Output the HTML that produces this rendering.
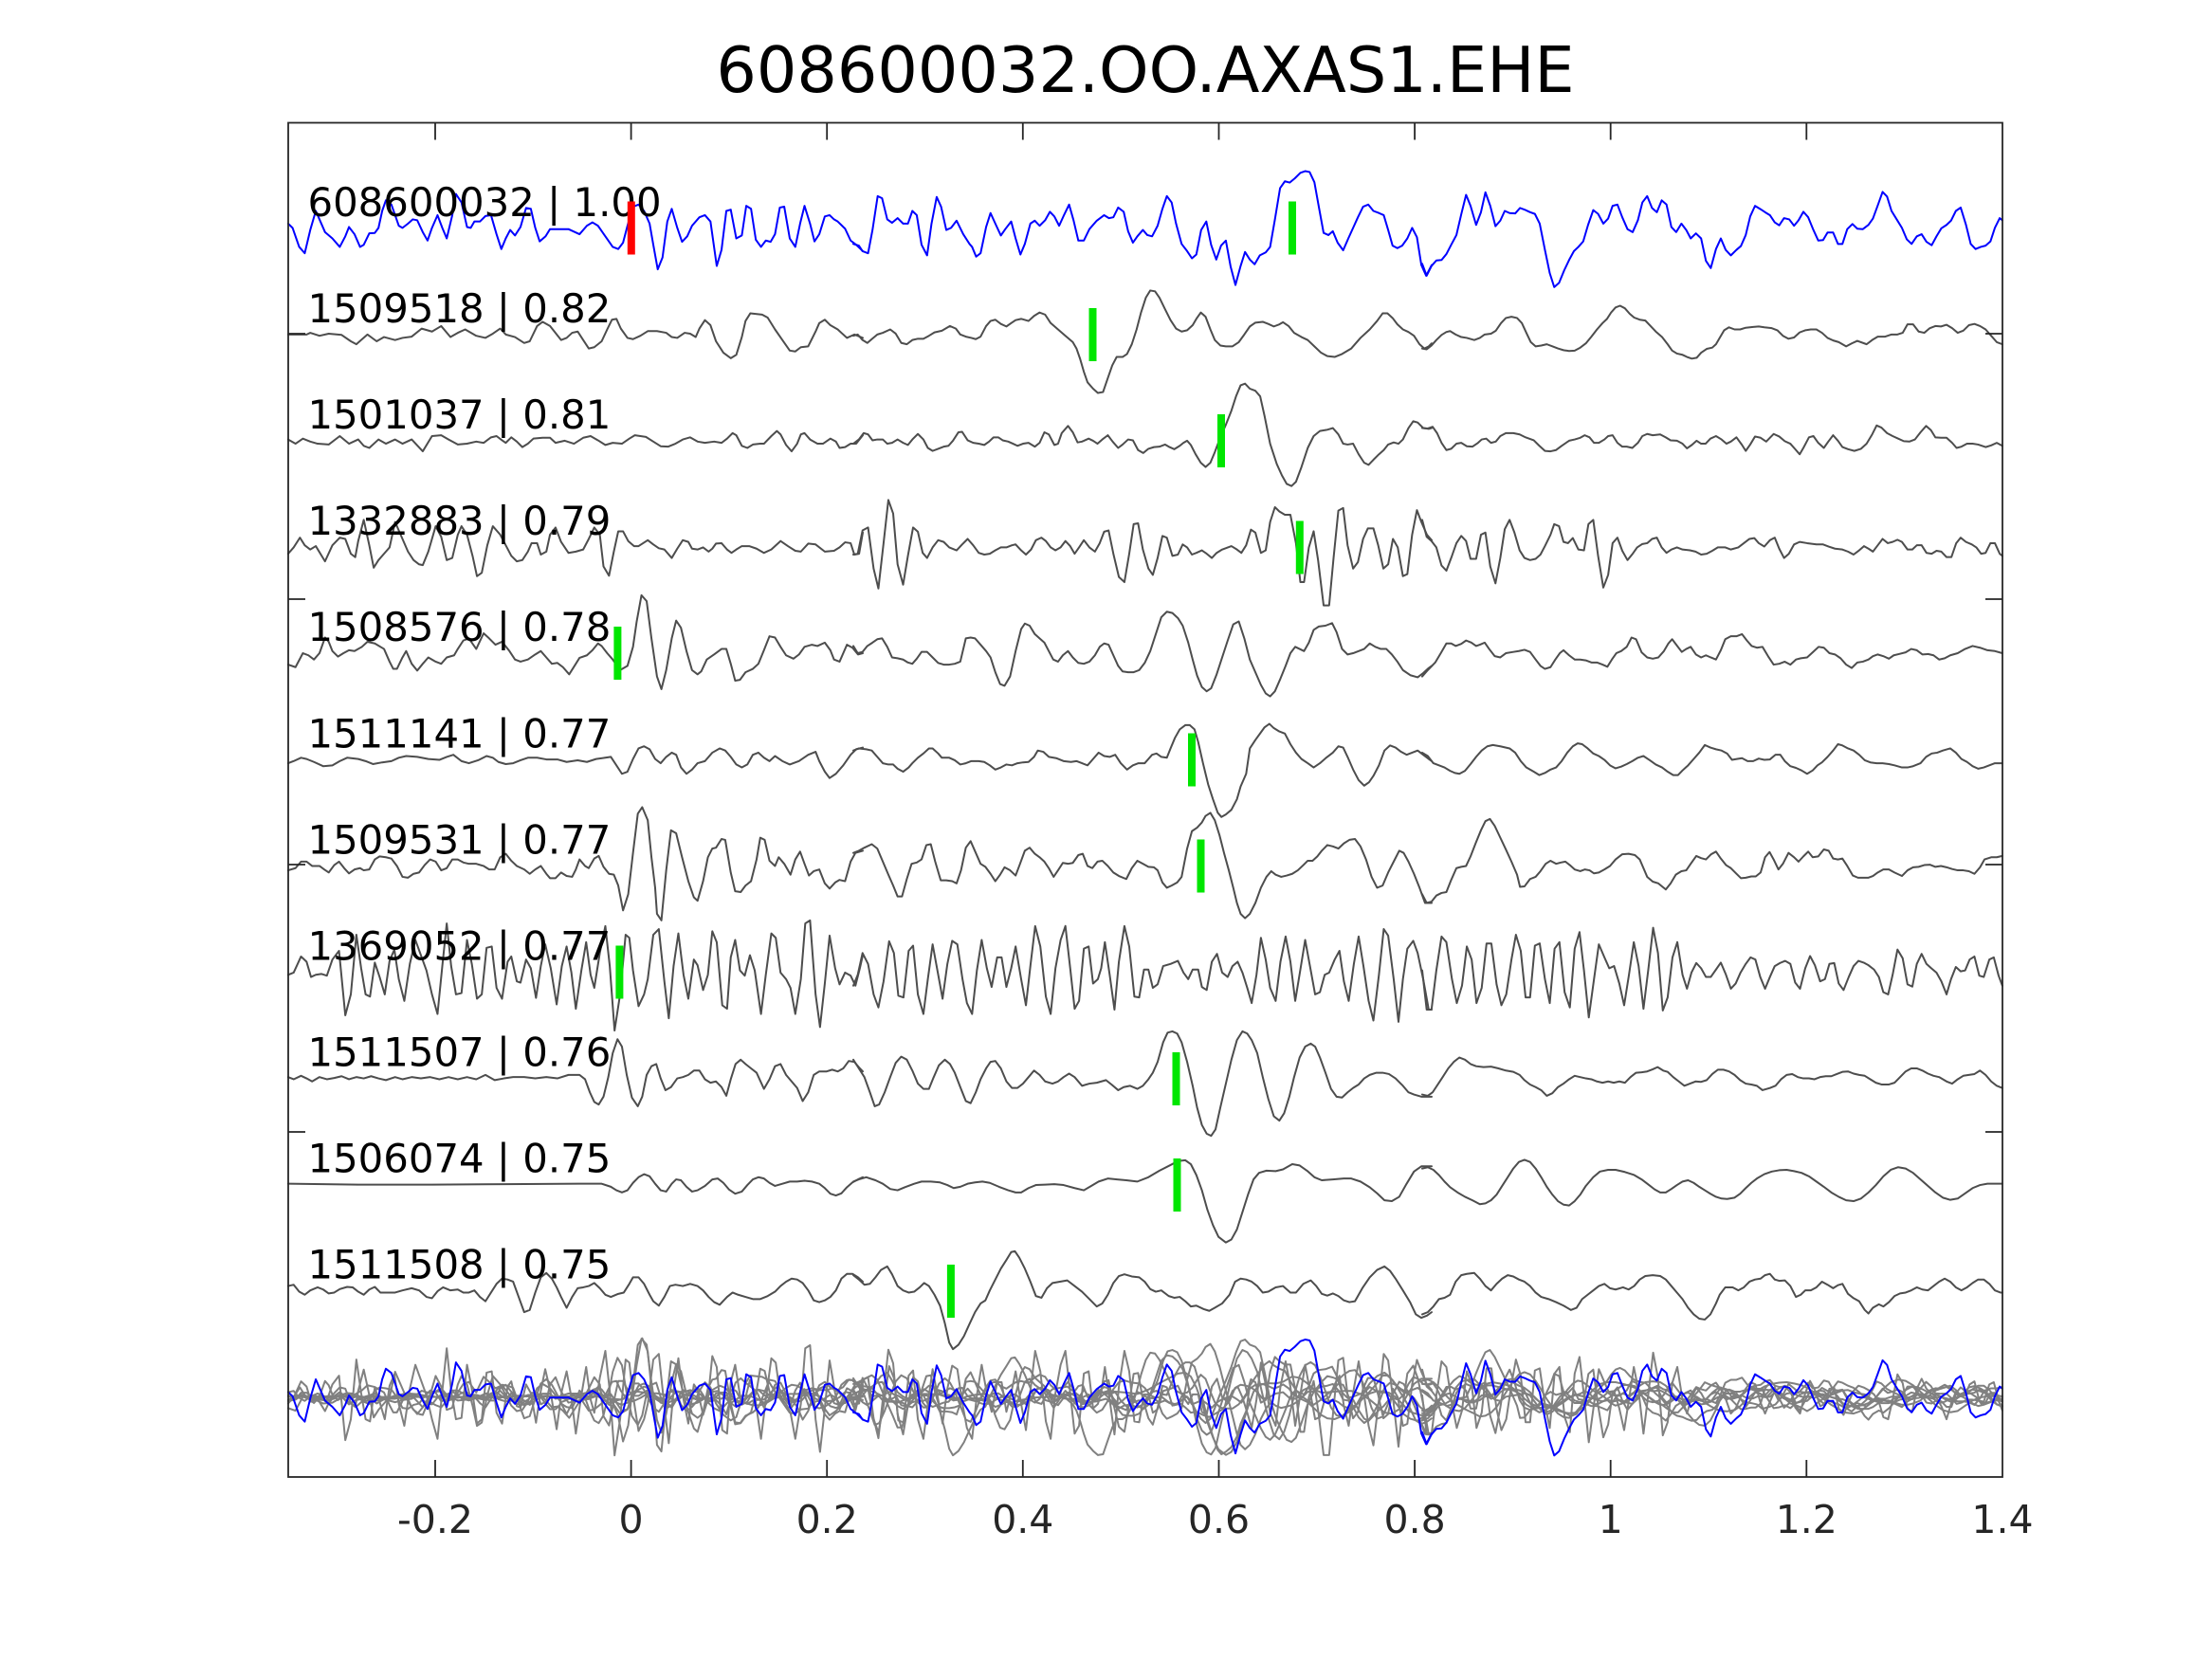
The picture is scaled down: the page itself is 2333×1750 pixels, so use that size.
<!DOCTYPE html>
<html>
<head>
<meta charset="utf-8">
<style>
html,body{margin:0;padding:0;background:#fff;}
svg{display:block;}
polyline{fill:none;vector-effect:non-scaling-stroke;stroke-linejoin:round;stroke-linecap:round;}
text{font-family:"DejaVu Sans","Liberation Sans",sans-serif;}
</style>
</head>
<body>
<svg width="2333" height="1750" viewBox="0 0 2333 1750" xmlns="http://www.w3.org/2000/svg" xmlns:xlink="http://www.w3.org/1999/xlink">
<defs>
<g id="t0">
<polyline transform="translate(300,160) scale(0.38903,0.44643)" points="10,170 22,180 40,225 55,240 70,185 85,140 95,160 110,190 130,205 150,225 165,200 175,178 190,195 205,225 215,220 230,193 245,192 255,180 265,140 275,115 290,125 300,150 310,175 320,180 335,170 348,160 360,162 375,190 388,210 400,180 415,150 428,180 440,205 455,150 465,100 480,120 495,178 505,180 515,165 530,165 545,152 560,150 575,195 588,230 600,205 612,185 625,198 640,178 655,133 668,135 680,180 692,212 708,200 720,183 740,183 770,183 800,195 820,175 835,167 850,175 870,200 890,225 905,230 918,215 930,175 945,130 960,125 975,140 990,170 1000,220 1012,278 1025,250 1038,165 1050,135 1065,180 1078,213 1092,200 1105,175 1125,155 1140,150 1155,165 1172,270 1185,232 1198,140 1210,137 1225,205 1240,198 1252,128 1265,135 1278,208 1292,225 1305,210 1318,213 1330,195 1343,132 1355,130 1370,205 1385,225 1398,170 1410,128 1425,170 1437,212 1450,195 1465,153 1478,150 1490,160 1500,165 1520,182 1535,210 1550,220 1568,235"/>
<polyline transform="translate(900,160) scale(0.38903,0.44643)" points="0,218 15,222 25,235 40,240 52,185 66,105 78,110 92,160 105,168 120,157 135,170 148,170 160,140 172,150 185,220 200,245 212,170 226,107 238,130 252,185 265,180 280,163 298,195 315,218 322,225 333,248 345,240 360,178 372,145 385,170 400,198 412,183 428,165 440,205 453,243 465,218 480,170 492,163 505,175 520,162 533,142 545,153 558,175 570,152 585,125 597,162 610,210 625,210 640,183 660,163 680,150 693,157 705,155 718,132 733,142 745,188 758,215 770,200 785,185 797,197 810,200 825,175 838,135 850,105 863,120 875,170 890,218 905,235 918,252 930,243 943,185 957,165 970,220 984,255 997,222 1010,210 1023,272 1036,315 1050,270 1062,237 1075,255 1088,266 1102,245 1118,238 1130,225 1143,160 1157,86 1170,70 1183,73 1197,63 1212,50 1225,46 1237,48 1250,72 1262,130 1275,192 1288,197 1300,188 1313,215 1328,233 1342,205 1355,180 1368,155 1382,130 1396,125 1410,140 1425,145 1438,150 1450,185 1462,222 1475,228 1488,222 1502,205 1515,180 1528,202 1540,268 1553,293 1568,268"/>
<polyline transform="translate(1500,160) scale(0.39222,0.44643)" points="0,265 12,293 25,270 38,257 52,256 65,242 78,220 92,197 105,148 118,102 130,128 145,173 158,143 170,96 183,128 197,176 210,163 222,140 235,145 250,146 263,133 278,138 290,143 303,147 316,170 330,232 343,287 355,320 368,310 382,280 395,256 408,235 420,225 433,212 446,173 460,138 473,147 487,170 500,158 512,128 525,125 538,155 552,183 566,190 580,162 592,120 605,105 618,133 631,143 644,115 657,125 670,178 683,190 697,170 710,185 722,205 736,193 750,205 763,258 776,275 790,230 803,205 816,232 830,245 845,232 857,223 870,197 882,153 895,128 910,136 922,143 935,150 948,167 960,174 973,157 987,160 1000,175 1012,162 1025,142 1038,155 1052,185 1065,210 1078,209 1090,191 1105,191 1118,218 1130,218 1143,183 1157,171 1170,182 1185,183 1200,173 1212,158 1225,127 1238,95 1250,106 1262,140 1276,160 1290,180 1303,207 1316,218 1330,200 1343,195 1356,213 1370,221 1383,200 1396,181 1410,173 1422,163 1435,140 1448,132 1462,172 1475,218 1488,230 1502,225 1515,222 1528,212 1540,180 1553,157 1560,162"/>
</g>
<g id="t1">
<polyline transform="translate(300,160) scale(0.38903,0.44643)" points="10,432 60,432 70,428 95,435 120,430 155,433 180,448 195,455 225,432 250,448 270,438 300,445 320,440 345,437 372,418 400,425 425,412 450,438 470,428 490,420 520,435 545,440 565,430 585,418 600,432 625,438 650,452 665,448 685,412 700,402 720,412 750,445 765,440 780,428 795,425 810,445 825,465 840,462 860,448 875,420 888,397 900,395 912,418 930,440 945,443 965,435 985,424 1010,424 1035,428 1050,438 1065,440 1085,428 1100,430 1115,438 1125,418 1140,398 1155,410 1170,448 1190,475 1210,488 1225,480 1240,438 1250,400 1263,382 1295,385 1310,392 1330,420 1350,445 1370,470 1385,472 1400,462 1420,460 1440,425 1450,405 1465,397 1480,410 1500,420 1525,440 1545,432 1568,440"/>
<polyline transform="translate(900,160) scale(0.38903,0.44643)" points="0,435 12,432 25,445 38,452 50,443 65,432 80,428 100,420 115,430 130,452 145,455 160,445 175,442 190,442 205,435 220,427 240,423 262,412 278,418 290,432 305,437 320,440 332,443 345,437 360,412 372,400 385,397 400,407 415,413 428,405 440,398 455,395 475,400 490,388 505,380 520,385 535,405 555,420 575,435 595,450 605,465 615,490 625,520 635,545 650,560 663,570 677,568 690,535 702,505 714,485 730,485 742,478 755,455 768,420 780,380 793,345 805,328 818,330 830,345 845,372 860,398 875,418 890,425 905,422 920,410 930,395 942,380 955,390 968,420 980,445 995,458 1010,460 1028,460 1045,450 1060,432 1075,413 1090,404 1110,402 1125,407 1140,413 1155,408 1165,403 1180,412 1195,428 1215,438 1232,445 1250,460 1268,475 1285,483 1305,485 1325,478 1350,465 1375,440 1400,420 1420,400 1435,382 1448,382 1462,393 1475,408 1490,420 1505,426 1520,435 1535,455 1548,465 1560,460 1568,453"/>
<polyline transform="translate(1500,160) scale(0.39222,0.44643)" points="0,465 12,467 25,458 38,445 52,433 65,426 75,424 90,432 105,438 120,440 140,445 155,440 168,432 185,430 198,423 212,405 225,393 240,390 255,393 268,405 280,428 292,450 305,460 320,458 335,455 350,460 365,465 380,469 395,471 410,470 425,463 440,453 455,437 470,420 485,405 497,395 508,380 520,368 532,364 545,370 558,383 570,392 585,397 600,399 612,410 628,425 645,438 660,455 672,470 685,477 700,480 712,485 725,489 738,487 750,475 765,466 780,463 790,455 800,440 812,422 825,415 840,420 855,420 870,416 890,414 905,413 920,415 940,417 955,422 970,435 985,442 1000,439 1015,427 1030,422 1045,420 1060,420 1075,428 1090,440 1105,446 1120,450 1140,460 1155,453 1170,447 1195,455 1210,445 1225,437 1245,437 1262,432 1278,432 1292,428 1305,408 1320,408 1335,425 1350,428 1365,417 1380,412 1395,413 1410,409 1425,417 1440,428 1455,423 1470,410 1485,407 1500,412 1515,420 1530,435 1545,450 1560,455"/>
</g>
<g id="t2">
<polyline transform="translate(300,160) scale(0.38903,0.44643)" points="10,680 30,690 50,678 70,685 90,690 120,692 150,672 175,690 200,680 215,695 230,700 255,680 275,690 300,680 320,690 345,680 375,708 400,672 425,670 445,680 470,692 495,690 520,685 540,688 560,675 575,672 590,682 600,688 615,675 630,685 645,698 660,690 675,678 700,676 720,676 735,688 760,683 785,690 810,676 830,672 850,682 870,693 890,688 915,690 935,678 950,670 980,674 1000,685 1020,696 1040,697 1060,690 1080,680 1100,675 1120,685 1140,688 1165,685 1185,688 1200,678 1215,665 1225,670 1240,695 1255,700 1270,692 1290,690 1300,690 1320,672 1335,660 1345,668 1360,693 1375,708 1390,690 1400,668 1410,665 1425,680 1445,690 1460,690 1480,678 1495,685 1505,700 1520,698 1535,690 1550,690 1568,670"/>
<polyline transform="translate(900,160) scale(0.38903,0.44643)" points="0,690 15,680 28,665 40,668 52,682 65,680 80,680 92,690 105,688 120,680 135,688 148,693 160,680 175,667 190,680 202,700 215,707 230,702 245,697 258,695 270,683 285,663 295,662 310,682 325,688 340,690 355,693 368,685 380,675 393,675 405,682 420,685 433,690 445,695 460,690 475,688 492,697 505,688 518,663 530,668 545,693 555,690 565,665 582,648 595,663 608,687 620,685 638,678 650,683 662,690 675,680 690,670 703,685 718,700 730,692 745,680 758,682 772,705 786,712 800,702 815,698 830,697 845,692 855,697 870,703 885,695 895,688 905,683 915,693 928,715 942,735 955,745 968,735 980,710 995,675 1010,645 1025,612 1038,577 1050,552 1062,548 1075,560 1090,565 1103,578 1115,625 1130,690 1148,738 1162,765 1175,785 1188,790 1200,780 1215,745 1232,700 1248,672 1265,660 1285,657 1300,653 1315,668 1328,690 1340,692 1355,690 1370,715 1385,735 1397,740 1410,728 1425,715 1438,705 1450,692 1465,687 1478,690 1490,680 1505,653 1518,637 1530,640 1545,653 1560,655 1568,653"/>
<polyline transform="translate(1500,160) scale(0.39222,0.44643)" points="0,653 15,654 28,650 40,665 52,688 65,705 78,702 92,690 105,688 120,696 135,697 150,688 160,680 172,678 185,688 198,685 210,672 225,665 245,665 262,668 278,675 300,682 315,695 330,707 345,708 360,705 375,695 395,683 410,680 425,676 437,670 450,675 462,688 475,688 490,680 500,672 512,670 525,688 538,697 550,697 565,700 580,688 592,672 605,667 620,670 640,668 655,675 668,682 685,683 700,690 712,701 725,693 738,683 750,690 762,690 775,678 790,672 805,680 818,690 830,685 845,675 860,693 870,707 882,692 895,673 910,676 925,685 945,667 960,673 975,684 990,690 1002,702 1015,715 1025,700 1040,675 1052,672 1065,688 1080,700 1092,685 1105,670 1118,683 1130,698 1145,703 1162,707 1180,702 1195,690 1210,668 1222,647 1235,652 1250,665 1265,672 1280,678 1295,684 1310,685 1325,680 1340,663 1355,648 1368,658 1380,675 1395,676 1410,676 1425,688 1437,700 1450,697 1465,690 1480,690 1495,692 1515,698 1530,694 1545,688 1560,695"/>
</g>
<g id="t3">
<polyline transform="translate(300,160) scale(0.38903,0.44643)" points="10,950 25,935 42,912 55,930 70,940 85,932 110,968 130,930 150,912 165,915 180,950 192,958 200,920 215,870 230,930 242,983 255,965 275,945 285,935 300,875 315,905 335,945 350,965 365,975 375,977 390,945 410,885 425,910 440,965 455,960 470,905 480,885 495,905 510,955 522,1003 535,995 550,930 565,885 585,905 600,930 615,955 630,968 645,965 660,945 670,925 685,925 695,952 710,945 720,905 735,888 750,922 770,948 790,945 810,940 825,915 840,888 855,905 865,980 880,1002 893,945 905,897 918,897 932,920 948,932 960,932 985,918 1000,928 1015,937 1030,940 1050,960 1065,938 1080,918 1095,922 1105,938 1120,940 1135,935 1150,945 1160,938 1170,926 1185,925 1200,940 1212,948 1225,940 1240,932 1260,932 1280,938 1300,948 1320,940 1345,920 1365,932 1385,943 1400,945 1420,926 1440,928 1465,945 1490,943 1505,935 1520,923 1535,925 1545,952 1558,950 1568,900"/>
<polyline transform="translate(900,160) scale(0.38903,0.44643)" points="0,952 12,950 25,895 40,888 55,985 68,1032 82,925 95,823 108,855 120,975 135,1023 148,955 162,888 175,898 188,948 200,960 215,935 230,918 245,922 260,935 280,942 295,928 310,915 325,930 340,948 355,952 370,950 385,942 400,935 415,935 430,930 440,928 455,942 468,952 482,940 495,918 510,912 522,920 535,935 548,942 562,935 575,920 588,932 600,950 612,935 625,918 640,935 655,945 668,925 680,898 692,895 705,950 720,1005 735,1017 748,950 760,880 772,878 785,940 800,985 812,1000 825,960 838,908 850,912 865,955 880,952 893,928 905,935 918,952 930,948 945,942 958,950 972,960 985,948 1000,940 1025,932 1040,940 1052,948 1065,930 1078,893 1090,900 1105,948 1118,942 1130,875 1143,840 1155,850 1170,858 1185,858 1200,925 1212,1017 1222,1017 1235,935 1248,897 1260,965 1275,1072 1290,1072 1302,960 1315,848 1328,842 1340,930 1355,985 1368,970 1382,915 1395,890 1410,890 1423,930 1437,985 1450,975 1463,915 1476,935 1490,1003 1502,998 1515,905 1528,847 1540,875 1555,905 1568,918"/>
<polyline transform="translate(1500,160) scale(0.39222,0.44643)" points="0,870 12,910 25,920 38,935 52,978 65,990 80,955 92,925 105,908 118,920 130,962 145,962 158,905 170,900 183,980 197,1020 210,960 222,892 235,870 248,900 262,942 275,960 290,965 305,962 318,952 330,932 345,905 355,880 368,885 380,922 392,925 405,913 420,940 435,942 447,880 460,870 473,955 487,1030 500,1000 512,925 525,912 538,943 552,965 566,950 578,935 592,927 605,925 618,915 631,912 644,935 657,948 670,940 685,935 700,940 720,942 735,945 750,952 765,950 780,943 795,935 815,935 830,940 850,935 865,925 880,915 893,913 905,925 920,933 935,918 948,912 960,938 973,960 986,950 1000,928 1015,922 1035,925 1060,928 1078,928 1093,933 1110,938 1130,940 1145,945 1160,952 1175,942 1188,932 1200,938 1212,945 1225,930 1238,915 1252,925 1265,922 1278,917 1290,922 1305,940 1318,940 1330,930 1343,930 1356,948 1370,950 1383,943 1396,945 1410,958 1423,958 1436,925 1448,912 1462,922 1478,928 1490,935 1503,950 1515,948 1528,925 1540,925 1553,950 1560,955"/>
</g>
<g id="t4">
<polyline transform="translate(300,160) scale(0.38903,0.44643)" points="10,1212 30,1218 50,1185 65,1190 80,1200 95,1185 110,1148 120,1158 130,1180 145,1193 160,1185 175,1178 190,1180 210,1170 225,1158 245,1162 270,1175 285,1205 295,1222 305,1222 320,1195 330,1180 345,1210 360,1226 375,1210 390,1195 410,1205 425,1210 440,1195 460,1190 470,1175 485,1155 500,1150 520,1175 540,1138 555,1150 572,1165 590,1158 610,1180 625,1200 640,1205 660,1200 680,1188 695,1180 710,1195 725,1210 740,1208 755,1218 772,1235 790,1210 800,1196 820,1190 835,1178 850,1162 860,1168 875,1185 890,1200 910,1225 930,1215 945,1170 955,1110 968,1048 982,1062 995,1150 1010,1240 1022,1270 1035,1225 1050,1150 1062,1108 1075,1125 1090,1180 1105,1225 1120,1235 1130,1228 1145,1200 1165,1188 1185,1175 1198,1175 1210,1210 1222,1250 1235,1248 1250,1230 1270,1222 1285,1210 1300,1178 1315,1145 1330,1148 1345,1170 1360,1190 1380,1198 1395,1188 1410,1170 1430,1165 1445,1168 1465,1160 1480,1178 1490,1200 1505,1205 1525,1165 1540,1172 1555,1188 1568,1185"/>
<polyline transform="translate(900,160) scale(0.38903,0.44643)" points="0,1168 12,1185 25,1182 38,1168 52,1160 65,1152 78,1150 92,1170 105,1195 120,1197 135,1200 148,1207 160,1210 172,1198 185,1182 200,1182 215,1195 230,1208 245,1212 260,1212 275,1210 290,1205 305,1150 318,1148 330,1150 345,1165 360,1180 372,1195 385,1230 398,1258 410,1262 425,1240 440,1180 455,1128 465,1115 478,1120 492,1140 505,1150 518,1160 530,1180 542,1200 555,1205 568,1190 582,1180 595,1195 610,1208 625,1210 640,1205 655,1190 668,1170 680,1162 692,1165 705,1190 718,1215 730,1228 745,1230 760,1230 775,1225 790,1208 805,1180 820,1140 835,1100 850,1087 865,1090 880,1102 893,1120 908,1160 920,1200 932,1238 945,1265 958,1275 970,1268 985,1235 1000,1195 1015,1155 1030,1117 1045,1110 1060,1150 1075,1200 1090,1230 1105,1260 1118,1280 1130,1287 1143,1275 1158,1245 1172,1215 1185,1185 1198,1170 1210,1175 1222,1180 1235,1160 1248,1130 1262,1122 1280,1120 1298,1114 1310,1135 1325,1175 1340,1188 1355,1185 1370,1180 1385,1175 1400,1162 1415,1170 1430,1175 1445,1175 1460,1188 1475,1205 1490,1225 1510,1237 1530,1242 1545,1232 1560,1220 1568,1215"/>
<polyline transform="translate(1500,160) scale(0.39222,0.44643)" points="0,1240 15,1225 35,1207 50,1185 65,1162 78,1162 90,1168 105,1163 118,1155 132,1160 145,1168 155,1165 168,1160 180,1175 195,1192 210,1195 225,1185 245,1182 260,1180 275,1177 290,1182 305,1200 318,1215 330,1222 345,1218 358,1200 370,1185 380,1178 395,1190 410,1200 425,1200 440,1202 455,1207 470,1207 485,1212 498,1217 510,1200 522,1185 535,1180 550,1170 563,1148 575,1152 590,1183 605,1195 620,1198 635,1195 650,1180 662,1162 672,1152 685,1167 698,1182 710,1175 722,1170 736,1188 750,1195 763,1190 776,1195 790,1200 803,1178 815,1152 830,1145 845,1145 860,1140 873,1155 886,1168 900,1172 915,1170 930,1192 945,1212 960,1210 975,1205 990,1212 1005,1200 1018,1197 1035,1195 1050,1183 1066,1170 1080,1172 1095,1185 1110,1188 1125,1197 1140,1212 1155,1220 1170,1207 1185,1205 1200,1200 1212,1192 1225,1188 1240,1192 1255,1198 1268,1190 1282,1187 1300,1183 1315,1175 1330,1178 1345,1188 1360,1187 1375,1190 1390,1200 1405,1197 1420,1190 1440,1185 1460,1175 1480,1168 1500,1172 1520,1178 1540,1180 1560,1185"/>
</g>
<g id="t5">
<polyline transform="translate(300,160) scale(0.38903,0.44643)" points="10,1445 25,1440 45,1432 60,1435 80,1442 105,1452 130,1450 150,1440 170,1432 200,1435 220,1440 240,1447 265,1443 290,1440 310,1432 330,1428 360,1430 390,1435 420,1437 440,1430 458,1425 480,1440 500,1445 525,1438 548,1428 565,1432 580,1442 600,1447 620,1445 640,1438 660,1432 685,1432 710,1436 740,1436 765,1442 795,1438 820,1442 845,1435 870,1432 885,1430 900,1450 915,1470 930,1465 945,1435 960,1410 975,1405 990,1412 1005,1435 1020,1445 1035,1430 1050,1420 1062,1425 1075,1455 1090,1470 1105,1460 1120,1445 1140,1440 1160,1420 1180,1410 1195,1415 1210,1430 1225,1448 1240,1455 1255,1448 1270,1425 1285,1420 1300,1432 1315,1440 1330,1428 1350,1440 1370,1448 1395,1440 1420,1425 1440,1418 1450,1440 1465,1465 1478,1480 1495,1470 1515,1450 1535,1425 1550,1412 1568,1408"/>
<polyline transform="translate(900,160) scale(0.38903,0.44643)" points="0,1415 15,1410 35,1412 50,1415 65,1430 80,1445 95,1448 108,1448 120,1458 135,1465 150,1455 160,1445 175,1432 190,1422 205,1410 215,1410 230,1422 240,1432 260,1432 275,1438 290,1448 305,1445 320,1440 340,1440 355,1442 370,1450 385,1460 400,1455 415,1448 430,1450 445,1445 460,1443 475,1442 490,1430 500,1415 515,1418 530,1430 550,1433 570,1440 590,1442 605,1440 620,1445 635,1450 650,1435 665,1420 680,1428 695,1430 710,1425 725,1445 742,1460 758,1450 773,1445 790,1445 800,1435 810,1425 822,1422 835,1430 850,1432 860,1410 872,1385 885,1365 900,1355 912,1355 925,1365 935,1395 948,1445 962,1495 975,1530 988,1562 998,1572 1010,1566 1025,1555 1040,1530 1050,1500 1065,1470 1075,1410 1090,1390 1105,1372 1115,1360 1128,1352 1140,1362 1155,1370 1170,1375 1185,1400 1200,1420 1215,1435 1232,1445 1248,1455 1265,1445 1282,1432 1300,1420 1315,1405 1328,1408 1340,1430 1355,1460 1370,1485 1385,1498 1398,1490 1410,1475 1425,1450 1440,1415 1455,1403 1470,1408 1485,1418 1500,1425 1515,1420 1530,1415 1545,1425 1560,1435 1568,1440"/>
<polyline transform="translate(1500,160) scale(0.39222,0.44643)" points="0,1420 15,1428 30,1445 45,1450 60,1455 75,1463 88,1468 100,1470 115,1463 130,1447 145,1430 160,1415 175,1405 190,1402 210,1405 235,1410 250,1420 265,1440 280,1455 300,1465 315,1473 330,1468 345,1460 360,1455 375,1440 390,1420 405,1405 418,1398 430,1400 445,1410 460,1422 475,1428 490,1437 505,1450 520,1457 535,1453 550,1447 565,1440 580,1432 595,1428 612,1438 628,1448 645,1455 660,1465 675,1473 688,1473 700,1462 715,1450 730,1435 745,1420 760,1402 775,1408 790,1412 805,1415 820,1422 833,1437 846,1435 860,1433 875,1440 890,1440 905,1434 920,1437 935,1436 950,1425 963,1425 975,1440 990,1452 1005,1456 1020,1462 1035,1470 1050,1462 1063,1450 1075,1443 1090,1430 1105,1415 1118,1400 1130,1403 1145,1410 1160,1415 1175,1425 1190,1438 1205,1443 1222,1445 1238,1445 1255,1447 1270,1450 1290,1455 1305,1455 1320,1452 1340,1445 1355,1430 1370,1422 1385,1420 1400,1415 1420,1410 1435,1420 1450,1435 1465,1442 1480,1452 1495,1458 1510,1455 1525,1450 1540,1445 1560,1445"/>
</g>
<g id="t6">
<polyline transform="translate(300,840) scale(0.38903,0.45918)" points="10,170 30,165 45,150 60,150 75,160 95,160 108,168 120,175 135,158 148,150 162,165 175,177 190,168 205,165 215,170 230,168 245,145 258,138 275,140 290,143 305,160 320,185 335,187 350,178 365,175 380,158 395,145 410,150 425,170 440,165 455,145 470,145 485,152 500,155 520,155 540,160 555,168 570,168 585,140 600,132 615,148 630,160 650,168 665,178 680,168 695,160 710,178 720,188 735,188 750,175 765,183 780,185 790,168 800,145 815,160 825,165 840,143 852,137 865,162 880,178 893,180 905,205 918,262 932,225 945,130 958,40 970,25 985,55 995,140 1005,210 1010,270 1022,285 1035,170 1048,78 1062,85 1078,140 1095,195 1110,232 1120,240 1135,195 1148,140 1160,120 1170,118 1185,98 1195,100 1210,175 1222,218 1237,220 1250,205 1265,195 1280,145 1290,95 1302,100 1315,148 1330,160 1340,140 1355,155 1372,180 1385,145 1398,127 1410,155 1422,182 1435,172 1450,168 1465,200 1478,212 1493,198 1505,192 1520,195 1535,150 1548,130 1568,125"/>
<polyline transform="translate(900,840) scale(0.38903,0.45918)" points="0,130 15,125 30,118 50,110 65,120 80,150 95,180 108,205 120,230 132,230 145,190 158,155 172,152 185,145 198,112 210,110 222,150 237,193 252,193 268,195 280,200 292,170 305,118 318,103 332,130 345,155 358,162 372,178 385,195 398,180 410,163 425,170 440,182 452,155 465,125 478,118 492,132 505,140 518,150 530,165 543,185 555,170 568,153 582,155 595,153 610,135 622,132 635,160 648,165 662,150 675,148 690,160 705,175 720,183 740,190 755,165 770,148 785,155 800,162 815,163 825,170 838,198 850,210 863,205 878,198 890,185 905,120 918,80 932,72 945,60 955,45 968,38 980,55 993,90 1005,130 1018,170 1030,210 1040,245 1050,270 1062,280 1075,270 1090,245 1105,210 1120,185 1133,172 1145,180 1160,185 1175,182 1190,178 1205,170 1220,158 1232,148 1245,148 1258,138 1270,125 1285,112 1300,115 1315,120 1330,108 1345,100 1360,98 1375,115 1390,145 1405,185 1420,210 1435,205 1450,175 1465,150 1480,125 1492,130 1505,150 1520,178 1535,210 1550,245 1568,245"/>
<polyline transform="translate(1500,840) scale(0.39222,0.45918)" points="0,225 12,245 25,242 38,228 52,222 65,220 78,192 92,165 105,162 118,160 130,138 145,105 158,78 170,57 182,52 195,68 210,95 225,122 240,150 255,180 263,208 275,207 290,190 305,185 318,172 332,155 345,148 360,155 373,152 385,150 397,158 410,168 425,172 437,168 450,170 462,177 475,175 490,168 505,160 520,145 538,133 555,132 572,135 585,145 595,165 605,185 620,196 635,200 655,214 668,200 682,180 697,172 710,170 722,155 737,137 750,142 763,145 777,133 790,127 803,143 817,158 830,165 845,178 857,188 870,187 885,184 897,184 910,175 922,140 934,128 945,145 958,168 970,155 985,130 1000,140 1012,150 1025,138 1038,127 1050,140 1065,138 1080,122 1093,125 1105,143 1118,145 1130,143 1143,160 1158,182 1172,187 1185,187 1200,187 1212,183 1225,175 1240,168 1255,168 1270,175 1290,183 1305,170 1320,163 1335,162 1350,158 1365,157 1380,162 1395,160 1410,163 1425,167 1440,170 1455,170 1470,172 1485,178 1500,163 1512,145 1530,140 1545,140 1560,137"/>
</g>
<g id="t7">
<polyline transform="translate(300,840) scale(0.38903,0.45918)" points="10,410 25,405 45,368 60,380 72,415 85,410 100,408 115,412 130,375 148,355 165,503 180,455 195,318 208,395 220,455 232,460 245,382 258,415 272,455 285,378 298,352 310,420 325,470 340,385 355,330 370,365 385,400 400,455 415,500 428,390 440,292 452,390 465,455 480,452 495,330 508,385 522,465 535,455 548,348 562,345 575,440 590,465 605,380 615,368 630,425 640,428 655,375 668,395 682,463 695,390 707,340 722,395 738,478 752,390 765,345 778,405 790,488 805,400 818,335 830,410 840,440 855,360 870,298 882,390 895,538 910,455 925,318 935,325 945,400 960,482 975,455 985,420 1000,318 1015,305 1030,425 1042,510 1055,390 1068,315 1082,410 1095,465 1110,375 1120,388 1135,445 1148,410 1160,310 1172,335 1187,480 1200,488 1210,370 1222,330 1235,400 1248,412 1262,365 1275,400 1292,500 1305,410 1320,315 1332,325 1345,405 1360,420 1372,440 1385,500 1400,420 1412,292 1425,285 1440,455 1452,530 1465,430 1478,320 1493,395 1505,432 1520,405 1535,412 1548,435 1560,395 1568,365"/>
<polyline transform="translate(900,840) scale(0.38903,0.45918)" points="0,435 12,410 25,360 40,385 55,455 68,485 82,425 97,333 110,360 122,458 136,462 150,355 162,343 175,455 190,500 202,420 215,340 228,400 242,465 255,385 268,332 282,340 296,420 308,475 322,500 335,400 348,330 362,395 375,438 390,370 402,370 415,438 428,395 440,345 455,420 468,480 480,390 493,298 507,345 522,460 535,500 548,395 562,330 575,298 588,395 600,488 612,470 625,350 638,345 650,430 663,420 672,395 682,335 695,410 708,490 720,380 735,298 748,345 762,460 775,462 788,398 800,398 812,440 825,432 840,390 860,385 880,378 895,405 908,420 920,398 935,398 945,438 958,445 972,380 986,362 1000,405 1015,415 1028,390 1042,380 1055,405 1068,440 1080,475 1093,410 1105,325 1118,375 1130,440 1145,470 1158,380 1172,322 1185,380 1198,470 1212,398 1225,330 1238,390 1252,455 1265,450 1278,410 1290,405 1305,375 1318,355 1330,425 1343,470 1357,385 1370,322 1383,390 1397,470 1410,515 1425,410 1438,305 1450,320 1465,420 1478,518 1490,420 1502,350 1518,332 1530,360 1545,420 1560,490 1568,490"/>
<polyline transform="translate(1500,840) scale(0.39222,0.45918)" points="0,400 12,490 25,490 38,400 52,322 65,335 80,420 93,475 107,435 120,345 133,375 146,475 160,440 173,338 186,338 200,432 213,480 226,455 240,375 252,318 265,355 278,462 290,462 303,343 316,338 330,420 343,475 356,350 369,335 383,450 397,485 410,350 423,312 435,400 448,508 462,420 475,340 490,370 503,395 516,390 530,430 543,480 556,410 569,335 582,390 595,488 608,398 621,302 634,360 647,492 660,462 673,370 686,335 700,410 712,442 724,405 737,383 750,395 763,415 776,415 790,398 803,382 816,408 830,442 843,430 856,405 870,385 883,370 896,375 909,415 922,442 935,415 948,390 962,383 976,378 990,385 1003,428 1016,442 1030,395 1043,367 1056,388 1070,425 1083,420 1095,385 1108,383 1120,430 1133,445 1147,415 1160,390 1173,378 1187,382 1200,388 1215,398 1228,415 1240,450 1253,455 1265,410 1278,352 1292,372 1305,432 1318,437 1330,385 1343,362 1356,385 1369,395 1383,405 1396,425 1410,455 1422,420 1435,392 1448,402 1460,400 1472,375 1485,368 1498,412 1510,415 1525,375 1537,370 1550,412 1560,435"/>
</g>
<g id="t8">
<polyline transform="translate(300,840) scale(0.38903,0.45918)" points="10,645 25,650 45,642 60,648 75,655 95,645 115,650 135,647 155,643 175,650 195,645 215,648 235,643 255,648 275,652 300,645 320,650 345,645 370,648 395,645 420,650 445,645 470,650 495,645 520,650 545,640 570,652 595,648 620,645 650,645 680,648 710,645 740,648 770,640 800,640 815,650 828,680 840,702 852,708 865,690 878,645 890,590 903,558 915,575 928,640 942,692 958,712 970,690 982,640 995,620 1008,615 1020,648 1033,675 1048,668 1065,648 1080,645 1095,640 1110,630 1125,630 1140,650 1155,658 1170,655 1185,668 1198,688 1210,650 1223,615 1237,605 1250,615 1265,625 1280,635 1300,672 1315,650 1330,620 1345,615 1360,640 1375,655 1390,670 1405,700 1420,680 1435,640 1450,632 1470,632 1485,628 1500,632 1515,625 1530,608 1545,610 1560,625 1568,632"/>
<polyline transform="translate(900,840) scale(0.38903,0.45918)" points="0,605 15,625 30,645 45,680 58,712 70,708 85,680 100,645 115,612 130,598 145,605 160,630 175,660 190,672 205,672 218,645 232,618 248,605 262,615 275,635 290,668 305,700 318,705 332,680 345,650 360,625 372,610 385,608 400,625 415,655 430,670 445,670 460,660 475,645 490,630 505,640 520,655 540,660 555,655 570,645 585,637 600,645 620,665 640,660 660,658 685,652 700,662 718,675 733,668 750,665 770,672 785,665 800,650 812,635 825,610 840,565 852,543 865,540 878,545 890,565 905,610 920,665 932,715 945,755 958,775 970,780 982,765 995,715 1010,660 1025,605 1040,560 1055,540 1068,545 1080,560 1095,590 1110,645 1125,695 1140,735 1155,745 1168,728 1182,690 1195,645 1210,600 1225,575 1240,568 1252,575 1265,600 1280,635 1295,672 1310,690 1325,692 1340,680 1355,670 1370,662 1385,648 1400,640 1418,635 1435,635 1452,638 1470,648 1490,665 1505,680 1520,685 1540,690 1568,690"/>
<polyline transform="translate(1500,840) scale(0.39222,0.45918)" points="0,685 15,688 28,680 42,662 55,645 70,625 85,610 100,600 115,605 130,615 145,620 165,622 185,621 205,625 225,630 245,633 262,640 275,652 290,662 305,668 320,675 335,688 350,682 365,668 380,660 395,650 410,642 425,645 440,648 455,650 470,655 485,658 500,655 515,658 530,655 545,658 560,645 575,635 590,634 605,632 620,627 633,622 648,630 660,633 675,645 690,655 705,665 720,660 735,655 750,656 765,652 780,638 795,628 810,628 825,632 840,640 855,652 870,660 885,662 900,665 915,675 935,670 950,665 965,650 980,640 995,638 1010,645 1025,648 1040,648 1055,650 1070,645 1085,643 1100,643 1115,638 1130,633 1145,632 1160,637 1175,640 1190,642 1205,650 1220,658 1235,662 1255,662 1270,658 1285,645 1300,632 1315,625 1330,625 1345,630 1360,637 1375,642 1390,645 1410,655 1425,660 1440,650 1455,642 1470,640 1485,638 1500,630 1515,640 1530,655 1545,665 1560,670"/>
</g>
<g id="t9">
<polyline transform="translate(300,840) scale(0.38903,0.45918)" points="10,890 200,892 400,892 600,891 800,890 860,890 885,897 900,905 915,910 930,905 945,888 960,875 975,868 990,873 1005,890 1020,905 1035,908 1050,890 1062,880 1075,882 1090,897 1105,908 1120,905 1140,895 1160,880 1175,878 1190,888 1205,903 1222,913 1240,908 1255,893 1270,880 1285,875 1300,878 1315,888 1330,895 1350,890 1370,885 1390,885 1410,883 1430,885 1450,890 1465,900 1480,913 1495,917 1510,912 1525,898 1540,887 1555,880 1568,875"/>
<polyline transform="translate(900,840) scale(0.38903,0.45918)" points="0,885 15,880 35,875 60,882 80,890 100,902 120,905 140,898 165,890 185,885 210,885 235,887 255,893 272,900 290,897 310,890 330,887 350,885 370,888 395,897 420,905 440,910 455,910 475,900 495,893 520,892 545,891 570,893 600,900 625,905 645,895 665,885 690,878 715,880 740,882 770,885 800,875 830,860 860,847 880,838 900,836 915,845 930,870 945,905 960,950 975,985 990,1012 1010,1025 1025,1018 1040,995 1055,955 1070,915 1085,880 1100,865 1120,860 1145,861 1165,857 1190,845 1210,848 1230,860 1250,875 1270,882 1300,880 1330,878 1350,878 1375,885 1400,898 1420,912 1440,928 1460,930 1480,920 1500,890 1520,862 1540,850 1568,850"/>
<polyline transform="translate(1500,840) scale(0.39222,0.45918)" points="0,855 15,852 30,858 45,870 60,885 75,898 95,910 115,920 135,928 155,937 170,935 185,928 200,915 215,895 230,875 245,855 260,840 275,835 290,840 305,855 320,875 335,897 350,915 365,930 380,938 395,940 410,930 425,915 440,895 460,875 478,862 500,858 520,858 545,863 570,870 590,880 610,893 625,903 640,910 655,910 670,902 685,893 700,885 715,882 730,888 745,897 760,905 775,913 790,920 805,924 820,925 840,922 855,913 870,900 885,888 900,878 920,868 940,862 960,859 980,858 1000,861 1020,865 1040,873 1060,885 1080,897 1100,910 1120,920 1140,928 1160,930 1180,924 1200,910 1220,893 1240,873 1260,858 1280,852 1300,855 1320,865 1340,880 1360,895 1380,910 1400,922 1420,927 1440,924 1460,912 1480,900 1500,893 1520,890 1545,890 1560,890"/>
</g>
<g id="t10">
<polyline transform="translate(300,840) scale(0.38903,0.45918)" points="10,1125 25,1122 40,1138 55,1145 70,1135 90,1128 105,1133 120,1142 135,1140 150,1132 170,1127 185,1128 200,1138 215,1145 230,1133 245,1127 260,1140 280,1140 300,1140 320,1135 345,1130 365,1135 385,1150 400,1153 415,1137 430,1128 450,1135 470,1133 485,1140 500,1140 515,1135 530,1150 545,1160 560,1140 575,1120 590,1108 605,1110 620,1115 635,1150 650,1185 665,1180 680,1140 695,1105 710,1095 725,1108 738,1128 750,1150 765,1175 780,1150 795,1130 810,1128 825,1125 840,1118 855,1130 870,1145 885,1150 905,1143 920,1140 935,1120 945,1105 960,1105 975,1120 990,1145 1000,1160 1015,1170 1030,1150 1045,1125 1060,1122 1080,1125 1100,1120 1120,1125 1135,1135 1150,1150 1165,1162 1180,1168 1200,1150 1215,1140 1230,1145 1250,1150 1270,1155 1290,1155 1310,1148 1330,1138 1345,1125 1360,1115 1375,1108 1390,1110 1405,1118 1420,1135 1435,1158 1450,1162 1465,1158 1480,1150 1495,1135 1510,1108 1525,1097 1540,1097 1555,1105 1568,1115"/>
<polyline transform="translate(900,840) scale(0.38903,0.45918)" points="0,1100 15,1110 30,1122 45,1120 60,1105 75,1088 92,1080 105,1098 120,1125 135,1135 150,1140 165,1138 180,1128 192,1118 205,1125 220,1145 235,1170 248,1210 260,1255 270,1270 285,1260 300,1240 315,1212 330,1185 345,1165 358,1158 370,1135 385,1110 400,1085 415,1065 428,1047 438,1045 450,1060 465,1085 480,1115 495,1148 510,1152 525,1130 540,1118 560,1115 580,1112 600,1125 620,1138 640,1155 660,1172 675,1165 690,1145 705,1118 720,1102 735,1098 755,1103 775,1105 790,1115 805,1132 820,1138 835,1135 855,1148 870,1152 885,1150 900,1160 915,1172 930,1170 950,1178 965,1182 980,1175 1000,1165 1020,1145 1035,1115 1050,1108 1065,1110 1080,1115 1095,1125 1110,1140 1125,1138 1145,1128 1165,1125 1185,1140 1200,1140 1220,1120 1240,1112 1255,1125 1270,1143 1285,1147 1300,1142 1315,1148 1330,1158 1345,1162 1360,1160 1380,1130 1400,1105 1420,1088 1440,1080 1455,1090 1470,1108 1490,1135 1510,1163 1525,1190 1540,1198 1555,1193 1568,1185"/>
<polyline transform="translate(1500,840) scale(0.39222,0.45918)" points="0,1190 15,1185 30,1172 45,1155 60,1152 75,1145 90,1115 105,1100 120,1097 140,1095 155,1108 170,1125 185,1135 200,1120 215,1108 230,1100 245,1103 260,1110 275,1115 290,1125 305,1140 320,1150 340,1155 360,1162 380,1170 400,1180 415,1175 430,1155 445,1145 460,1135 475,1125 490,1120 505,1130 520,1133 540,1128 555,1133 570,1125 585,1110 600,1102 620,1100 640,1102 655,1110 670,1125 685,1140 700,1155 715,1175 730,1190 745,1200 760,1202 775,1190 790,1165 800,1145 815,1128 835,1128 850,1135 865,1128 880,1115 895,1110 910,1108 922,1100 935,1097 948,1110 960,1113 975,1112 990,1125 1005,1150 1018,1145 1030,1135 1045,1135 1060,1128 1075,1115 1090,1122 1105,1130 1118,1123 1130,1120 1145,1143 1160,1153 1175,1160 1190,1180 1200,1188 1212,1175 1228,1167 1240,1172 1255,1162 1270,1148 1285,1142 1300,1140 1315,1135 1330,1128 1345,1133 1360,1135 1375,1125 1390,1115 1405,1108 1420,1115 1435,1128 1450,1135 1465,1128 1480,1118 1495,1110 1510,1110 1525,1120 1540,1135 1555,1140 1560,1140"/>
</g>
</defs>

<rect x="0" y="0" width="2333" height="1750" fill="#ffffff"/>

<g stroke="#808080" stroke-width="2">
<use xlink:href="#t1" href="#t1" transform="translate(0,1120.45)"/>
<use xlink:href="#t2" href="#t2" transform="translate(0,1008.4)"/>
<use xlink:href="#t3" href="#t3" transform="translate(0,896.35)"/>
<use xlink:href="#t4" href="#t4" transform="translate(0,784.3)"/>
<use xlink:href="#t5" href="#t5" transform="translate(0,672.25)"/>
<use xlink:href="#t6" href="#t6" transform="translate(0,560.2)"/>
<use xlink:href="#t7" href="#t7" transform="translate(0,448.15)"/>
<use xlink:href="#t8" href="#t8" transform="translate(0,336.1)"/>
<use xlink:href="#t9" href="#t9" transform="translate(0,224.05)"/>
<use xlink:href="#t10" href="#t10" transform="translate(0,112)"/>
</g>
<use xlink:href="#t0" href="#t0" transform="translate(0,1232.5)" stroke="#0000ff" stroke-width="2"/>

<g stroke="#4d4d4d" stroke-width="2">
<use xlink:href="#t1" href="#t1"/>
<use xlink:href="#t2" href="#t2"/>
<use xlink:href="#t3" href="#t3"/>
<use xlink:href="#t4" href="#t4"/>
<use xlink:href="#t5" href="#t5"/>
<use xlink:href="#t6" href="#t6"/>
<use xlink:href="#t7" href="#t7"/>
<use xlink:href="#t8" href="#t8"/>
<use xlink:href="#t9" href="#t9"/>
<use xlink:href="#t10" href="#t10"/>
</g>
<use xlink:href="#t0" href="#t0" stroke="#0000ff" stroke-width="2"/>

<g font-size="41.8" fill="#000000">
<text x="324.5" y="228">608600032 | 1.00</text>
<text x="324.5" y="340">1509518 | 0.82</text>
<text x="324.5" y="452.1">1501037 | 0.81</text>
<text x="324.5" y="564.2">1332883 | 0.79</text>
<text x="324.5" y="676.2">1508576 | 0.78</text>
<text x="324.5" y="788.3">1511141 | 0.77</text>
<text x="324.5" y="900.3">1509531 | 0.77</text>
<text x="324.5" y="1012.4">1369052 | 0.77</text>
<text x="324.5" y="1124.4">1511507 | 0.76</text>
<text x="324.5" y="1236.5">1506074 | 0.75</text>
<text x="324.5" y="1348.5">1511508 | 0.75</text>
</g>

<g stroke-width="8">
<line x1="665.8" y1="212.5" x2="665.8" y2="268.5" stroke="#ff0000"/>
<g stroke="#00e600">
<line x1="1363" y1="212.5" x2="1363" y2="268.5"/>
<line x1="1152.5" y1="325" x2="1152.5" y2="381"/>
<line x1="1288" y1="437" x2="1288" y2="493"/>
<line x1="1370.8" y1="549.5" x2="1370.8" y2="605.5"/>
<line x1="651.4" y1="661" x2="651.4" y2="717"/>
<line x1="1257" y1="773.5" x2="1257" y2="829.5"/>
<line x1="1266.5" y1="885.5" x2="1266.5" y2="941.5"/>
<line x1="653.4" y1="997.5" x2="653.4" y2="1053.5"/>
<line x1="1240.5" y1="1110" x2="1240.5" y2="1166"/>
<line x1="1241.5" y1="1222" x2="1241.5" y2="1278"/>
<line x1="1002.9" y1="1334" x2="1002.9" y2="1390"/>
</g>
</g>

<g stroke="#262626" stroke-width="1.8" fill="none">
<rect x="304" y="129.5" width="1808" height="1428.5"/>
<path d="M459,129.5V147.5 M665.6,129.5V147.5 M872.2,129.5V147.5 M1078.8,129.5V147.5 M1285.5,129.5V147.5 M1492.1,129.5V147.5 M1698.7,129.5V147.5 M1905.3,129.5V147.5"/>
<path d="M459,1558V1540 M665.6,1558V1540 M872.2,1558V1540 M1078.8,1558V1540 M1285.5,1558V1540 M1492.1,1558V1540 M1698.7,1558V1540 M1905.3,1558V1540"/>
<path d="M304,352H322 M304,632H322 M304,912H322 M304,1194H322"/>
<path d="M2112,352H2094 M2112,632H2094 M2112,912H2094 M2112,1194H2094"/>
</g>

<g font-size="41" fill="#262626" text-anchor="middle">
<text x="459" y="1617">-0.2</text>
<text x="665.6" y="1617">0</text>
<text x="872.2" y="1617">0.2</text>
<text x="1078.8" y="1617">0.4</text>
<text x="1285.5" y="1617">0.6</text>
<text x="1492.1" y="1617">0.8</text>
<text x="1698.7" y="1617">1</text>
<text x="1905.3" y="1617">1.2</text>
<text x="2112" y="1617">1.4</text>
</g>

<text x="1208" y="97" font-size="66.8" fill="#000000" text-anchor="middle">608600032.OO.AXAS1.EHE</text>
</svg>
</body>
</html>
